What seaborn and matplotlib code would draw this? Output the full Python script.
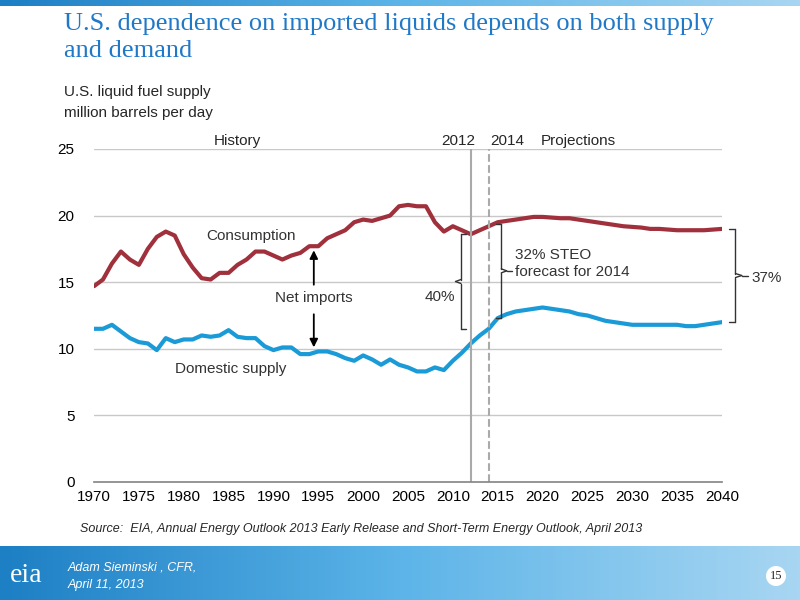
import matplotlib
matplotlib.use("Agg")
import matplotlib.pyplot as plt
import seaborn as sns
import pandas as pd
import numpy as np

years = list(range(1970, 2041))
consumption = [14.7,15.2,16.4,17.3,16.7,16.3,17.5,18.4,18.8,18.5,17.1,16.1,15.3,15.2,15.7,15.7,16.3,16.7,17.3,17.3,
               17.0,16.7,17.0,17.2,17.7,17.7,18.3,18.6,18.9,19.5,19.7,19.6,19.8,20.0,20.7,20.8,20.7,20.7,19.5,18.8,
               19.2,18.9,18.6,18.9,19.2,19.5,19.6,19.7,19.8,19.9,19.9,19.85,19.8,19.8,19.7,19.6,19.5,19.4,19.3,19.2,
               19.15,19.1,19.0,19.0,18.95,18.9,18.9,18.9,18.9,18.95,19.0]
domestic = [11.5,11.5,11.8,11.3,10.8,10.5,10.4,9.9,10.8,10.5,10.7,10.7,11.0,10.9,11.0,11.4,10.9,10.8,10.8,10.2,
            9.9,10.1,10.1,9.6,9.6,9.8,9.8,9.6,9.3,9.1,9.5,9.2,8.8,9.2,8.8,8.6,8.3,8.3,8.6,8.4,
            9.1,9.7,10.4,11.0,11.5,12.3,12.6,12.8,12.9,13.0,13.1,13.0,12.9,12.8,12.6,12.5,12.3,12.1,12.0,11.9,
            11.8,11.8,11.8,11.8,11.8,11.8,11.7,11.7,11.8,11.9,12.0]

df = pd.DataFrame({"year": years*2, "value": consumption+domestic,
                   "series": ["Consumption"]*len(years)+["Domestic supply"]*len(years)})

sns.set_theme(style="white")
plt.rcParams['font.family'] = ['Liberation Sans', 'DejaVu Sans']
fig = plt.figure(figsize=(8, 6), dpi=100)
ax = fig.add_axes([0.1175, 0.1967, 0.785, 0.555])
sns.lineplot(data=df, x="year", y="value", hue="series",
             palette={"Consumption": "#a0303c", "Domestic supply": "#1a9bd7"},
             linewidth=3, legend=False, ax=ax)
ax.set_xlim(1970, 2040)
ax.set_ylim(0, 25)
ax.set_xticks(range(1970, 2041, 5))
ax.set_yticks(range(0, 26, 5))
ax.tick_params(labelsize=11, colors="black", length=0)
ax.tick_params(axis="y", pad=14)
ax.tick_params(axis="x", pad=6)
ax.set_xlabel(""); ax.set_ylabel("")
for y in range(5, 26, 5):
    ax.axhline(y, color="#c8c8c8", lw=1, zorder=0)
for s in ["top", "right", "left"]:
    ax.spines[s].set_visible(False)
ax.spines["bottom"].set_color("#888888")
ax.axvline(2012, color="#aaaaaa", lw=1.5)
ax.axvline(2014, color="#aaaaaa", lw=1.5, ls="--")

def brace(x, y0, y1, w, side):
    ym = (y0 + y1) / 2
    kw = dict(color="#333333", lw=1, clip_on=False)
    ax.plot([x, x + side*w*0.5], [y0, y0], **kw)
    ax.plot([x + side*w*0.5, x + side*w*0.5], [y0, ym - 0.15], **kw)
    ax.plot([x + side*w*0.5, x + side*w], [ym - 0.15, ym], **kw)
    ax.plot([x + side*w, x + side*w*0.5], [ym, ym + 0.15], **kw)
    ax.plot([x + side*w*0.5, x + side*w*0.5], [ym + 0.15, y1], **kw)
    ax.plot([x + side*w*0.5, x], [y1, y1], **kw)

brace(2011.5, 11.5, 18.6, 1.2, -1)
brace(2014.8, 12.3, 19.4, 1.2, +1)
brace(2040.8, 12.0, 19.0, 1.4, +1)
ax.plot([2016.0, 2016.6], [15.85, 15.85], color="#333333", lw=1)
ax.plot([2042.2, 2042.9], [15.5, 15.5], color="#333333", lw=1, clip_on=False)

ax.text(2012.5, 25.3, "2012", ha="right", fontsize=11)
ax.text(2014.2, 25.3, "2014", ha="left", fontsize=11)
ax.text(1986, 25.3, "History", ha="center", fontsize=11)
ax.text(2024, 25.3, "Projections", ha="center", fontsize=11)
ax.text(1982.5, 18.2, "Consumption", fontsize=11, color="#333333")
ax.text(1979, 8.2, "Domestic supply", fontsize=11, color="#333333")
ax.text(1994.5, 13.5, "Net imports", ha="center", fontsize=11, color="#333333")
ax.annotate("", xy=(1994.5, 17.6), xytext=(1994.5, 14.6),
            arrowprops=dict(arrowstyle="-|>", color="black", lw=1.3))
ax.annotate("", xy=(1994.5, 9.9), xytext=(1994.5, 12.8),
            arrowprops=dict(arrowstyle="-|>", color="black", lw=1.3))
ax.text(2008.5, 13.6, "40%", ha="center", fontsize=11, color="#333333")
ax.text(2016.9, 15.5, "32% STEO\nforecast for 2014", fontsize=11, color="#333333", linespacing=1.25)
ax.text(2043.3, 15.0, "37%", fontsize=11, color="#333333", clip_on=False)

fig.text(0.08, 0.978, "U.S. dependence on imported liquids depends on both supply\nand demand",
         family="Liberation Serif", fontsize=19, color="#1f78c8", va="top", linespacing=1.3)
fig.text(0.08, 0.84, "U.S. liquid fuel supply", fontsize=11)
fig.text(0.08, 0.805, "million barrels per day", fontsize=11)
fig.text(0.1, 0.113, "Source:  EIA, Annual Energy Outlook 2013 Early Release and Short-Term Energy Outlook, April 2013",
         fontsize=9, style="italic")
cmap = matplotlib.colors.LinearSegmentedColormap.from_list("b", ["#1d7fc4", "#5cb4e8", "#a8d6f2"])
grad = np.linspace(0, 1, 256).reshape(1, -1)
fax = fig.add_axes([0, 0, 1, 0.09])
fax.imshow(grad, aspect="auto", cmap=cmap)
fax.axis("off")
top = fig.add_axes([0, 0.99, 1, 0.01])
top.imshow(grad, aspect="auto", cmap=cmap)
top.axis("off")
fig.text(0.012, 0.04, "eia", fontsize=20, family="Liberation Serif", color="white", va="center")
fig.text(0.085, 0.055, "Adam Sieminski , CFR,", fontsize=9, style="italic", color="white", va="center")
fig.text(0.085, 0.025, "April 11, 2013", fontsize=9, style="italic", color="white", va="center")
fig.text(0.97, 0.04, "15", fontsize=9, family="Liberation Serif", ha="center", va="center",
         bbox=dict(boxstyle="circle,pad=0.3", fc="white", ec="none"))
fig.savefig("out.png", dpi=100)
